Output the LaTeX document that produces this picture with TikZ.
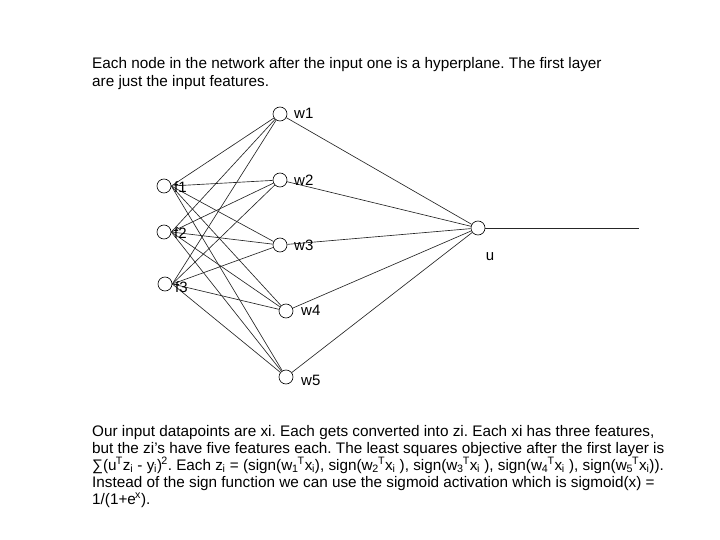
\documentclass[tikz,border=0pt]{standalone}
\usepackage{fontspec}
\setmainfont{Liberation Sans}
\frenchspacing
\newcommand\mysub[1]{\textsubscript{\kern-0.03em#1}}
\newcommand\mysup[1]{\kern-0.05em\textsuperscript{#1}}
\begin{document}
\begin{tikzpicture}[x=1pt,y=-1pt,
  neuron/.style={circle,draw,line width=0.6pt,minimum size=14pt,inner sep=0pt,fill=white},
  lbl/.style={font=\fontsize{15}{17}\selectfont,inner sep=0pt},
  txt/.style={font=\fontsize{15.3}{17}\selectfont,anchor=base west,inner sep=0pt},
  conn/.style={line width=0.65pt,draw=black!85}]
\useasboundingbox (0,0) rectangle (720,540);
% text
\node[txt] (t1) at (92,69) {Each node in the network after the input one is a hyperplane. The first layer};
\node[txt] (t2) at (92,87) {are just the input features.};
% nodes
\node[neuron] (f1) at (164,186) {};
\node[neuron] (f2) at (164,232) {};
\node[neuron] (f3) at (165,284) {};
\node[neuron] (w1) at (280,114) {};
\node[neuron] (w2) at (280,180) {};
\node[neuron] (w3) at (280,245) {};
\node[neuron] (w4) at (286,311) {};
\node[neuron] (w5) at (286,377) {};
\node[neuron] (u) at (478,228) {};
\coordinate (out) at (639,228);
% connectors
\foreach \i in {f1,f2,f3}{
  \foreach \j in {w1,w2,w3,w4,w5}{
    \draw[conn] (\i.east) -- (\j);
  }
}
\foreach \j in {w1,w2,w3,w4,w5}{
  \draw[conn] (\j) -- (u);
}
\draw[conn] (u) -- (out);
% labels
\node[lbl,anchor=west] (lf1) at (174,187) {f1};
\node[lbl,anchor=west] (lf2) at (174,233) {f2};
\node[lbl,anchor=west] (lf3) at (175,287) {f3};
\node[lbl,anchor=west] (lw1) at (294,113) {w1};
\node[lbl,anchor=west] (lw2) at (294,180) {w2};
\node[lbl,anchor=west] (lw3) at (294,245) {w3};
\node[lbl,anchor=west] (lw4) at (301,310) {w4};
\node[lbl,anchor=west] (lw5) at (301,380) {w5};
\node[lbl] (lu) at (490,257) {u};
% bottom text
\node[txt] (b1) at (92,436) {Our input datapoints are xi. Each gets converted into zi. Each xi has three features,};
\node[txt] (b2) at (92,453) {but the zi's have five features each. The least squares objective after the first layer is};
\node[txt] (b3) at (92,470) {∑(u\mysup{T}z\mysub{i} - y\mysub{i})\mysup{2}. Each z\mysub{i} = (sign(w\mysub{1}\mysup{T}x\mysub{i}), sign(w\mysub{2}\mysup{T}x\mysub{i} ), sign(w\mysub{3}\mysup{T}x\mysub{i} ), sign(w\mysub{4}\mysup{T}x\mysub{i} ), sign(w\mysub{5}\mysup{T}x\mysub{i})).};
\node[txt] (b4) at (92,487) {Instead of the sign function we can use the sigmoid activation which is sigmoid(x) =};
\node[txt] (b5) at (92,504) {1/(1+e\mysup{x}).};
\end{tikzpicture}
\end{document}
